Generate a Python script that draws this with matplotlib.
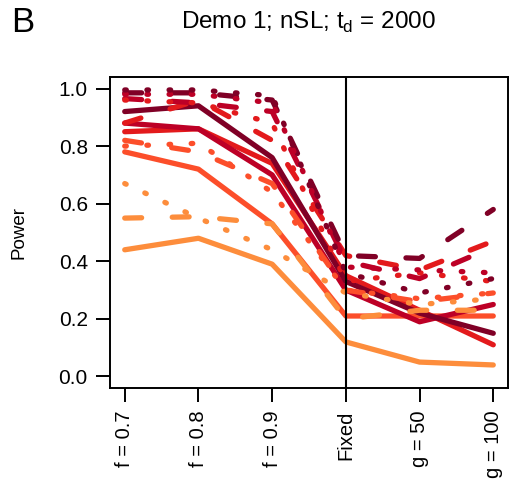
import matplotlib
matplotlib.use("Agg")
import matplotlib.pyplot as plt

x_labels = ["f = 0.7", "f = 0.8", "f = 0.9", "Fixed", "g = 50", "g = 100"]

# orange -> dark red
colors = ["#FD8D3C", "#FC4E2A", "#E31A1C", "#BD0026", "#800026"]

solid_power = [
	[0.44, 0.48, 0.39, 0.12, 0.05, 0.04],
	[0.78, 0.72, 0.53, 0.21, 0.21, 0.21],
	[0.85, 0.86, 0.74, 0.35, 0.23, 0.11],
	[0.88, 0.86, 0.70, 0.30, 0.19, 0.25],
	[0.92, 0.94, 0.76, 0.33, 0.22, 0.15],
]

dashed_power = [
	[0.55, 0.555, 0.53, 0.20, 0.23, 0.23],
	[0.82, 0.78, 0.67, 0.30, 0.26, 0.29],
	[0.88, 0.96, 0.82, 0.42, 0.37, 0.47],
	[0.965, 0.95, 0.92, 0.40, 0.34, 0.45],
	[0.985, 0.985, 0.96, 0.42, 0.41, 0.58],
]

dotted_power = [
	[0.67, 0.55, 0.44, 0.29, 0.25, 0.27],
	[0.80, 0.81, 0.64, 0.30, 0.27, 0.29],
	[0.96, 0.95, 0.88, 0.33, 0.36, 0.33],
	[0.98, 0.98, 0.95, 0.38, 0.37, 0.36],
	[0.995, 0.995, 0.975, 0.36, 0.29, 0.34],
]

plt.rcParams["font.family"] = ["Liberation Sans", "DejaVu Sans"]

fig = plt.figure(figsize=(5.09, 4.91), dpi=100)
ax = fig.add_axes([110 / 509, 103 / 491, 398 / 509, 311 / 491])

x = list(range(1, len(x_labels) + 1))
lw = 3.8

for c, y in zip(colors, solid_power):
	ax.plot(x, y, color=c, lw=lw, solid_capstyle="round", solid_joinstyle="round")
for c, y in zip(colors, dashed_power):
	ax.plot(x, y, color=c, lw=lw, dashes=(3.2, 5.8), dash_capstyle="round")
for c, y in zip(colors, dotted_power):
	ax.plot(x, y, color=c, lw=lw, dashes=(0.3, 3.9), dash_capstyle="round")

ax.axvline(4, color="black", lw=1.5)

ax.set_xlim(0.8, 6.2)
ax.set_ylim(-0.04, 1.04)
ax.set_xticks(x)
ax.set_xticklabels(x_labels, rotation=90, fontsize=14.5)
ax.set_yticks([0.0, 0.2, 0.4, 0.6, 0.8, 1.0])
ax.set_yticklabels(["0.0", "0.2", "0.4", "0.6", "0.8", "1.0"], fontsize=15)
ax.tick_params(length=10, width=1.4, pad=6)
for s in ax.spines.values():
	s.set_linewidth(1.4)

ax.set_ylabel("Power", fontsize=13.5, labelpad=22)
fig.text(308 / 509, 1 - 22 / 491, r"Demo 1; nSL; t$_\mathregular{d}$ = 2000",
	fontsize=17.5, ha="center", va="center")
fig.text(11 / 509, 1 - 22 / 491, "B", fontsize=25, ha="left", va="center")

fig.savefig("out.png", dpi=100)
